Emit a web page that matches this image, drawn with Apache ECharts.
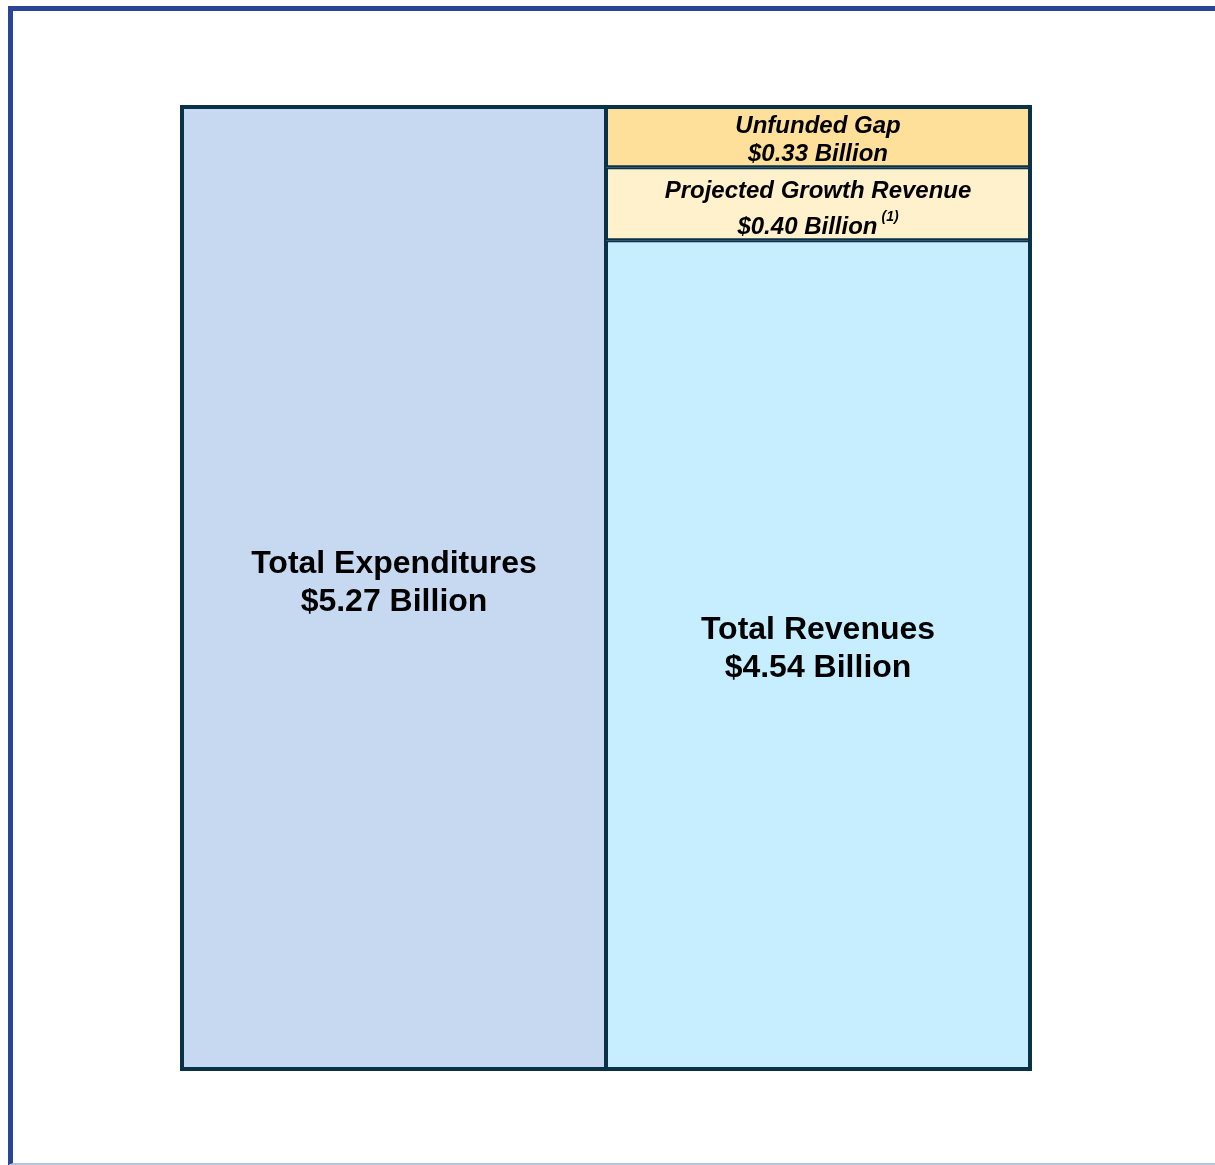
<!DOCTYPE html>
<html>
<head>
<meta charset="utf-8">
<script src="https://cdn.jsdelivr.net/npm/echarts@6/dist/echarts.min.js"></script>
<style>
  html, body { margin: 0; padding: 0; background: #fff; }
  #chart { position: absolute; left: 0; top: 0; width: 1215px; height: 1165px; }
  #frame { position: absolute; left: 8px; top: 6px; width: 1300px; height: 1152px;
           border-top: 5px solid #2b4596; border-left: 5px solid #2b4596;
           border-bottom: 2px solid #b4c4df; pointer-events: none; }
</style>
</head>
<body>
<div id="chart"></div>
<div id="frame"></div>
<script>
const categories = ['Expenditures', 'Revenues'];
const expenditures = [5.27, null];
const revenues = [null, 4.54];
const growthRevenue = [null, 0.40];
const unfundedGap = [null, 0.33];

const edge = '#0b3148';
const font = 'Arial, "Liberation Sans", Helvetica, sans-serif';

const chart = echarts.init(document.getElementById('chart'));
chart.setOption({
  animation: false,
  grid: { left: 182, right: 185, top: 107, bottom: 96, show: true, borderColor: edge, borderWidth: 4, backgroundColor: 'transparent' },
  xAxis: { type: 'category', data: categories, show: false },
  yAxis: { type: 'value', min: 0, max: 5.27, show: false, splitLine: { show: false } },
  series: [
    {
      type: 'bar', stack: 'a', data: expenditures,
      barWidth: '100%', barGap: '0%', barCategoryGap: '0%',
      itemStyle: { color: '#c7d9f0', borderColor: edge, borderWidth: 2 },
      label: {
        show: true, position: 'inside', offset: [0, -5],
        formatter: p => 'Total Expenditures\n$' + p.value.toFixed(2) + ' Billion',
        fontFamily: font, fontSize: 32, fontWeight: 'bold', color: '#000', lineHeight: 38
      }
    },
    {
      type: 'bar', stack: 'a', data: revenues,
      barWidth: '100%',
      itemStyle: { color: '#c6eefe', borderColor: edge, borderWidth: 2 },
      label: {
        show: true, position: 'inside', offset: [0, -5],
        formatter: p => 'Total Revenues\n$' + p.value.toFixed(2) + ' Billion',
        fontFamily: font, fontSize: 32, fontWeight: 'bold', color: '#000', lineHeight: 38
      }
    },
    {
      type: 'bar', stack: 'a', data: growthRevenue,
      barWidth: '100%',
      itemStyle: { color: '#fff1cc', borderColor: edge, borderWidth: 2 },
      label: {
        show: true, position: 'inside', offset: [0, 6],
        formatter: p => '{a|Projected Growth Revenue}\n{b|$' + p.value.toFixed(2) + ' Billion}{s|(1)}',
        rich: {
          a: { fontFamily: font, fontSize: 24, fontWeight: 'bold', fontStyle: 'italic', color: '#000', lineHeight: 36 },
          b: { fontFamily: font, fontSize: 24, fontWeight: 'bold', fontStyle: 'italic', color: '#000', lineHeight: 36 },
          s: { fontFamily: font, fontSize: 14, fontWeight: 'bold', fontStyle: 'italic', color: '#000', lineHeight: 8, verticalAlign: 'top', padding: [0, 0, 0, 4] }
        }
      }
    },
    {
      type: 'bar', stack: 'a', data: unfundedGap,
      barWidth: '100%',
      itemStyle: { color: '#ffe09a', borderColor: edge, borderWidth: 2 },
      label: {
        show: true, position: 'inside', offset: [0, 3],
        formatter: p => 'Unfunded Gap\n$' + p.value.toFixed(2) + ' Billion',
        fontFamily: font, fontSize: 24, fontWeight: 'bold', fontStyle: 'italic', color: '#000', lineHeight: 28
      }
    }
  ]
});
</script>
</body>
</html>
